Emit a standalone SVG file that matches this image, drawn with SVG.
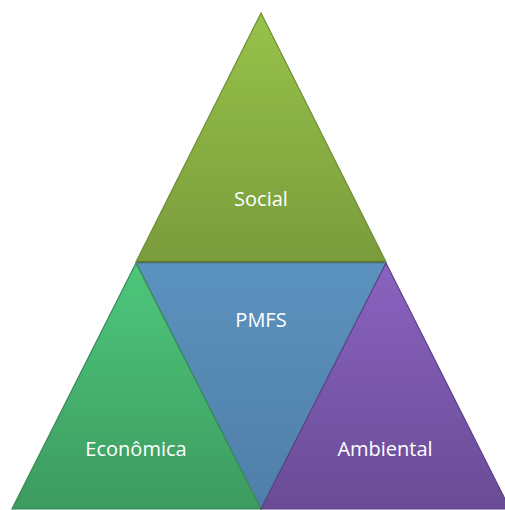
<svg xmlns="http://www.w3.org/2000/svg" width="505" height="510" viewBox="0 0 505 510">
<style>
.lbl{font-family:"Open Sans","Liberation Sans",sans-serif;font-size:20px;fill:#ffffff;text-anchor:middle}
.edge{stroke-width:1.2;stroke-linejoin:miter}
</style>
<defs>
<linearGradient id="gSoc" x1="0" y1="0" x2="0" y2="1"><stop offset="0" stop-color="#97c24a"/><stop offset="1" stop-color="#7a9c3c"/></linearGradient>
<linearGradient id="gPm" x1="0" y1="0" x2="0" y2="1"><stop offset="0" stop-color="#5b92be"/><stop offset="1" stop-color="#4f7fa8"/></linearGradient>
<linearGradient id="gEc" x1="0" y1="0" x2="0" y2="1"><stop offset="0" stop-color="#4ec77c"/><stop offset="1" stop-color="#3d9b60"/></linearGradient>
<linearGradient id="gAm" x1="0" y1="0" x2="0" y2="1"><stop offset="0" stop-color="#8a62c0"/><stop offset="1" stop-color="#6a4c96"/></linearGradient>
</defs>
<g id="social">
<polygon class="edge" points="261,13 386,262 136,262" fill="url(#gSoc)" stroke="#6f8d36"/>
<line x1="137" y1="262" x2="385" y2="262" stroke="#5b732c" stroke-width="2"/>
<text class="lbl" x="261" y="206">Social</text>
</g>
<g id="pmfs">
<polygon class="edge" points="136,263 386,263 261,509" fill="url(#gPm)" stroke="#4a7698"/>
<text class="lbl" x="261" y="327">PMFS</text>
</g>
<g id="economica">
<polygon class="edge" points="136,263 261,509 12,509" fill="url(#gEc)" stroke="#368a55"/>
<text class="lbl" x="136" y="456">Econômica</text>
</g>
<g id="ambiental">
<polygon class="edge" points="386,263 510,509 261,509" fill="url(#gAm)" stroke="#5c4284"/>
<text class="lbl" x="385" y="456">Ambiental</text>
</g>
<g id="connectors"></g>
</svg>
